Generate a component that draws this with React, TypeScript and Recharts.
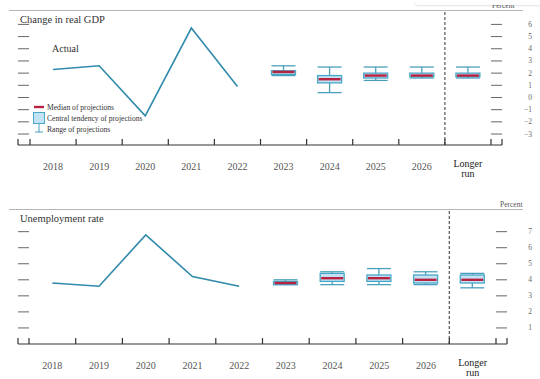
import React from 'react';
import { ComposedChart, Line, Bar, XAxis, YAxis, ReferenceLine } from 'recharts';

const categories = ['2018', '2019', '2020', '2021', '2022', '2023', '2024', '2025', '2026', 'Longer run'];

// Change in real GDP
const gdpActual = [2.3, 2.6, -1.5, 5.7, 0.9, null, null, null, null, null];
const gdpMedian = [null, null, null, null, null, 2.1, 1.5, 1.8, 1.8, 1.8];
const gdpCtLow = [null, null, null, null, null, 1.9, 1.2, 1.6, 1.7, 1.7];
const gdpCtHigh = [null, null, null, null, null, 2.2, 1.8, 2.0, 2.0, 2.0];
const gdpRangeLow = [null, null, null, null, null, 1.8, 0.4, 1.4, 1.6, 1.6];
const gdpRangeHigh = [null, null, null, null, null, 2.6, 2.5, 2.5, 2.5, 2.5];
const gdpTicks = [-3, -2, -1, 0, 1, 2, 3, 4, 5, 6];
const gdpDomain = [-3.9, 7.1];

// Unemployment rate
const unActual = [3.8, 3.6, 6.8, 4.2, 3.6, null, null, null, null, null];
const unMedian = [null, null, null, null, null, 3.8, 4.1, 4.1, 4.0, 4.0];
const unCtLow = [null, null, null, null, null, 3.7, 3.9, 3.9, 3.8, 3.8];
const unCtHigh = [null, null, null, null, null, 3.9, 4.4, 4.3, 4.3, 4.3];
const unRangeLow = [null, null, null, null, null, 3.7, 3.7, 3.7, 3.7, 3.5];
const unRangeHigh = [null, null, null, null, null, 4.0, 4.5, 4.7, 4.5, 4.4];
const unTicks = [1, 2, 3, 4, 5, 6, 7];
const unDomain = [0, 8.35];

const legendItems = ['Median of projections', 'Central tendency of projections', 'Range of projections'];

const LINE = '#2f8aab';
const BOX_FILL = '#c3e2f3';
const BOX_STROKE = '#4aa6c6';
const WHISKER = '#4a9fbd';
const MEDIAN = '#b8213f';
const SERIF = '"Liberation Serif", "DejaVu Serif", serif';

type N = number | null;
function buildRows(actual: N[], med: N[], ctl: N[], cth: N[], rl: N[], rh: N[]) {
  return categories.map((cat, i) => ({
    cat,
    actual: actual[i],
    median: med[i],
    ctLow: ctl[i],
    ctHigh: cth[i],
    rangeLow: rl[i],
    rangeHigh: rh[i],
    range: rl[i] != null && rh[i] != null ? [rl[i], rh[i]] : null,
  }));
}

const gdpRows = buildRows(gdpActual, gdpMedian, gdpCtLow, gdpCtHigh, gdpRangeLow, gdpRangeHigh);
const unRows = buildRows(unActual, unMedian, unCtLow, unCtHigh, unRangeLow, unRangeHigh);

const BoxShape = (props: any) => {
  const { x, y, width, height, payload } = props;
  if (!payload || payload.median == null || payload.rangeLow == null) return null;
  const lo = payload.rangeLow;
  const hi = payload.rangeHigh;
  const top = Math.min(y, y + height);
  const h = Math.abs(height);
  const k = hi - lo !== 0 ? h / (hi - lo) : 0;
  const py = (v: number) => top + (hi - v) * k;
  const cx = x + width / 2;
  const x0 = x;
  const x1 = x + width;
  const yRH = py(hi);
  const yRL = py(lo);
  const yCH = py(payload.ctHigh);
  const yCL = py(payload.ctLow);
  const yM = py(payload.median);
  return (
    <g>
      <line x1={cx} x2={cx} y1={yRH} y2={yCH} stroke={WHISKER} strokeWidth={1.3} />
      <line x1={cx} x2={cx} y1={yCL} y2={yRL} stroke={WHISKER} strokeWidth={1.3} />
      <line x1={x0} x2={x1} y1={yRH} y2={yRH} stroke={WHISKER} strokeWidth={1.3} />
      <line x1={x0} x2={x1} y1={yRL} y2={yRL} stroke={WHISKER} strokeWidth={1.3} />
      <rect x={x0} y={yCH} width={width} height={Math.max(yCL - yCH, 0.5)} fill={BOX_FILL} stroke={BOX_STROKE} strokeWidth={1.3} />
      <line x1={x0 + 1} x2={x1 - 1} y1={yM} y2={yM} stroke={MEDIAN} strokeWidth={2.4} />
    </g>
  );
};

const makeXTick = (padL: number, padR: number, n: number) => (props: any) => {
  const { x, y, payload, index } = props;
  const half = payload && payload.offset ? payload.offset : 23;
  const value = payload ? payload.value : '';
  const bx = x - half;
  const isLR = value === 'Longer run';
  return (
    <g>
      <line x1={bx} x2={bx} y1={y - 6} y2={y} stroke="#333" strokeWidth={1.2} />
      {index === n - 1 ? <line x1={x + half} x2={x + half} y1={y - 6} y2={y} stroke="#333" strokeWidth={1.2} /> : null}
      {index === n - 1 ? <line x1={x + half + padR} x2={x + half + padR} y1={y - 6} y2={y} stroke="#333" strokeWidth={1.2} /> : null}
      {index === 0 ? <line x1={bx - padL} x2={bx - padL} y1={y - 6} y2={y} stroke="#333" strokeWidth={1.2} /> : null}
      {isLR ? (
        <text textAnchor="middle" fontFamily={SERIF} fontSize={10} fill="#222">
          <tspan x={x} y={y + 22}>Longer</tspan>
          <tspan x={x} y={y + 32}>run</tspan>
        </text>
      ) : (
        <text x={x} y={y + 25} textAnchor="middle" fontFamily={SERIF} fontSize={10} fill="#555">
          {value}
        </text>
      )}
    </g>
  );
};

const LeftTick = (props: any) => {
  const { y } = props;
  return <line x1={18} x2={29} y1={y} y2={y} stroke="#666" strokeWidth={1} />;
};

const makeRightTick = (labelDx: number) => (props: any) => {
  const { x, y, payload } = props;
  const v = payload ? payload.value : 0;
  const label = v < 0 ? '\u2212' + Math.abs(v) : String(v);
  return (
    <g>
      <line x1={x - 11} x2={x} y1={y} y2={y} stroke="#666" strokeWidth={1} />
      <text x={x + labelDx} y={y + 2.5} textAnchor="end" fontFamily={SERIF} fontSize={7.5} fill="#666">
        {label}
      </text>
    </g>
  );
};

type PanelProps = {
  rows: any[];
  ticks: number[];
  domain: number[];
  height: number;
  marginTop: number;
  marginBottom: number;
  rightWidth: number;
  padL: number;
  padR: number;
  labelDx: number;
};

const Panel = ({ rows, ticks, domain, height, marginTop, marginBottom, rightWidth, padL, padR, labelDx }: PanelProps) => (
  <ComposedChart
    width={540}
    height={height}
    data={rows}
    margin={{ top: marginTop, right: 540 - 18 - rightWidth - (540 - 18 - rightWidth), left: 8, bottom: marginBottom }}
  >
    <XAxis
      dataKey="cat"
      type="category"
      padding={{ left: padL, right: padR }}
      axisLine={{ stroke: '#333', strokeWidth: 1.2 }}
      tickLine={false}
      tickSize={0}
      tickMargin={0}
      height={30}
      interval={0}
      tick={makeXTick(padL, padR, categories.length)}
    />
    <YAxis
      yAxisId="L"
      orientation="left"
      width={10}
      domain={domain}
      allowDataOverflow
      ticks={ticks}
      interval={0}
      axisLine={false}
      tickLine={false}
      tickSize={0}
      tickMargin={0}
      tick={LeftTick}
    />
    <YAxis
      yAxisId="R"
      orientation="right"
      width={rightWidth}
      domain={domain}
      allowDataOverflow
      ticks={ticks}
      interval={0}
      axisLine={false}
      tickLine={false}
      tickSize={0}
      tickMargin={0}
      tick={makeRightTick(labelDx)}
    />
    <ReferenceLine
      yAxisId="L"
      x="Longer run"
      position="start"
      stroke="#555"
      strokeWidth={1.2}
      strokeDasharray="3 2"
    />
    <Bar yAxisId="L" dataKey="range" barSize={24} shape={BoxShape} isAnimationActive={false} />
    <Line
      yAxisId="L"
      type="linear"
      dataKey="actual"
      stroke={LINE}
      strokeWidth={1.6}
      dot={false}
      activeDot={false}
      isAnimationActive={false}
    />
  </ComposedChart>
);

const legendSymbol = (i: number) => {
  if (i === 0) {
    return (
      <svg width={14} height={10}>
        <line x1={2} x2={12} y1={5} y2={5} stroke={MEDIAN} strokeWidth={2.4} />
      </svg>
    );
  }
  if (i === 1) {
    return (
      <svg width={14} height={12}>
        <rect x={1.5} y={0.5} width={11} height={11} fill={BOX_FILL} stroke={BOX_STROKE} strokeWidth={1} />
      </svg>
    );
  }
  return (
    <svg width={14} height={10}>
      <line x1={7} x2={7} y1={0} y2={8} stroke={WHISKER} strokeWidth={1} />
      <line x1={3} x2={11} y1={8} y2={8} stroke={WHISKER} strokeWidth={1} />
    </svg>
  );
};

export default function App() {
  return (
    <div style={{ position: 'absolute', left: 0, top: 0, width: 540, height: 379, background: '#fff', overflow: 'hidden', fontFamily: SERIF }}>
      <div style={{ position: 'absolute', left: 0, top: 0 }}>
        <Panel rows={gdpRows} ticks={gdpTicks} domain={gdpDomain} height={190} marginTop={11} marginBottom={15} rightWidth={38} padL={12} padR={11} labelDx={30} />
      </div>
      <div style={{ position: 'absolute', left: 0, top: 190 }}>
        <Panel rows={unRows} ticks={unTicks} domain={unDomain} height={189} marginTop={20} marginBottom={5} rightWidth={33} padL={11} padR={11} labelDx={25} />
      </div>

      <div style={{ position: 'absolute', left: 9, top: 10, width: 514, borderTop: '1.5px solid #b5b5b5' }} />
      <div style={{ position: 'absolute', left: 9, top: 209, width: 514, borderTop: '1.5px solid #b5b5b5' }} />

      <div style={{ position: 'absolute', left: 20, top: 13, fontSize: 10.5, lineHeight: '13px', color: '#333', whiteSpace: 'nowrap' }}>Change in real GDP</div>
      <div style={{ position: 'absolute', left: 20, top: 212, fontSize: 10.5, lineHeight: '13px', color: '#333', whiteSpace: 'nowrap' }}>Unemployment rate</div>
      <div style={{ position: 'absolute', left: 52, top: 43, fontSize: 10, lineHeight: '12px', color: '#333' }}>Actual</div>

      <div style={{ position: 'absolute', left: 500, top: 200, fontSize: 7.5, lineHeight: '9px', color: '#555' }}>Percent</div>
      <div style={{ position: 'absolute', left: 492, top: 1, fontSize: 7.5, lineHeight: '9px', color: '#555' }}>Percent</div>
      <div style={{ position: 'absolute', left: 415, top: -6, width: 140, height: 10.5, background: '#fff', borderRadius: 3, boxShadow: '0 1px 2px rgba(0,0,0,0.12)' }} />

      <div style={{ position: 'absolute', left: 30, top: 102, fontSize: 7.6, color: '#333' }}>
        {legendItems.map((t, i) => (
          <div key={t} style={{ display: 'flex', alignItems: 'center', height: i === 1 ? 12 : 10, marginBottom: 0 }}>
            <span style={{ width: 17, display: 'inline-flex', justifyContent: 'center' }}>{legendSymbol(i)}</span>
            <span style={{ whiteSpace: 'nowrap' }}>{t}</span>
          </div>
        ))}
      </div>
    </div>
  );
}
